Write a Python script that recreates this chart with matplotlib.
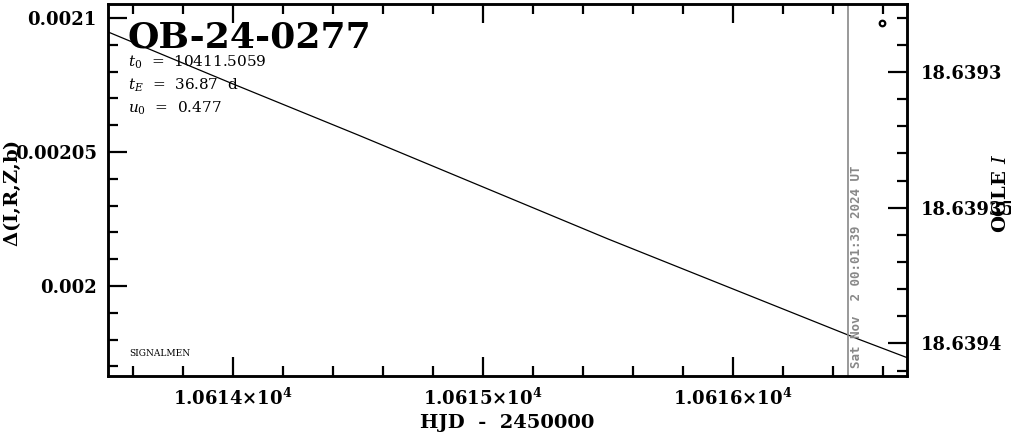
import matplotlib
matplotlib.use("Agg")
import matplotlib.pyplot as plt
from matplotlib.ticker import MultipleLocator, FixedLocator, FuncFormatter

# model curve
hjd = [10613.5, 10614.0, 10614.5, 10615.0, 10615.5, 10616.0, 10616.5, 10616.7]
delta_flux = [0.00209478, 0.00207537, 0.00205634, 0.00203694,
              0.00201754, 0.00199888, 0.00198022, 0.00197313]

# single OGLE point
ogle_hjd = [10616.596]
ogle_mag = [18.639282]

now_hjd = 10616.46
event = "OB-24-0277"
params = [r"$t_0$  =  10411.5059", r"$t_E$  =  36.87  d", r"$u_0$  =  0.477"]
date_text = "Sat Nov  2 00:01:39 2024 UT"

plt.rcParams['font.family'] = ['DejaVu Serif']
plt.rcParams['mathtext.fontset'] = 'dejavuserif'

fig = plt.figure(figsize=(10.11, 4.34), dpi=100)
ax = fig.add_axes([0.1068, 0.1336, 0.7903, 0.8572])
ax2 = ax.twinx()

ax.plot(hjd, delta_flux, color='black', lw=0.9)
ax.axvline(now_hjd, color='#888888', lw=1.2)
ax2.plot(ogle_hjd, ogle_mag, 'o', mfc='white', mec='black', ms=4, mew=1.6)

ax.set_xlim(10613.5, 10616.696)
ax.set_ylim(0.0019664, 0.0021052)
ax2.set_ylim(18.639412, 18.639275)

# ticks
ax.xaxis.set_major_locator(MultipleLocator(1.0))
ax.xaxis.set_minor_locator(MultipleLocator(0.2))
ax.yaxis.set_major_locator(FixedLocator([0.0020, 0.00205, 0.0021]))
ax.yaxis.set_minor_locator(MultipleLocator(0.00001))
ax2.yaxis.set_major_locator(FixedLocator([18.6393, 18.63935, 18.6394]))
ax2.yaxis.set_minor_locator(MultipleLocator(0.00001))

ax.xaxis.set_major_formatter(FuncFormatter(
    lambda v, p: r"$\mathbf{%.4f{\times}10^{4}}$" % (v / 1e4)))
ax.yaxis.set_major_formatter(FuncFormatter(
    lambda v, p: {0.002: "0.002", 0.00205: "0.00205", 0.0021: "0.0021"}.get(round(v, 5), "")))
ax2.yaxis.set_major_formatter(FuncFormatter(
    lambda v, p: {18.6393: "18.6393", 18.63935: "18.63935", 18.6394: "18.6394"}.get(round(v, 5), "")))

ax.tick_params(axis='x', which='both', direction='in', top=True, bottom=True, width=1.6)
ax.tick_params(axis='y', which='both', direction='in', left=True, right=False, width=1.6)
ax.tick_params(which='major', length=14, labelsize=13, pad=8)
ax.tick_params(which='minor', length=7)
ax2.tick_params(axis='y', which='both', direction='in', width=1.6)
ax2.tick_params(which='major', length=14, labelsize=13, pad=10)
ax2.tick_params(which='minor', length=7)
for lab in ax.get_yticklabels() + ax2.get_yticklabels():
    lab.set_fontweight('bold')

for sp in ax.spines.values():
    sp.set_linewidth(1.8)
for sp in ax2.spines.values():
    sp.set_linewidth(1.8)

ax.set_xlabel("HJD  -  2450000", fontsize=14, fontweight='bold', labelpad=4)
fig.text(0.012, 0.555, r"$\mathbf{\Delta}$(I,R,Z,b)", rotation=90, fontsize=14,
         fontweight='bold', ha='center', va='center')
fig.text(0.99, 0.555, r"OGLE $\it{I}$", rotation=90, fontsize=14,
         fontweight='bold', ha='center', va='center')

ax.text(0.025, 0.955, event, transform=ax.transAxes, fontsize=26,
        fontweight='bold', va='top', ha='left')
for i, s in enumerate(params):
    ax.text(0.025, 0.843 - i * 0.062, s, transform=ax.transAxes,
            fontsize=11, va='center', ha='left')
ax.text(0.027, 0.06, "SIGNALMEN", transform=ax.transAxes, fontsize=6.5,
        va='center', ha='left')
ax.text(now_hjd + 0.035, 0.0019664 + 0.0000030, date_text, rotation=90,
        color='#888888', fontsize=9, family='DejaVu Sans Mono',
        fontweight='bold', ha='center', va='bottom')

fig.savefig("out.png", dpi=100)
